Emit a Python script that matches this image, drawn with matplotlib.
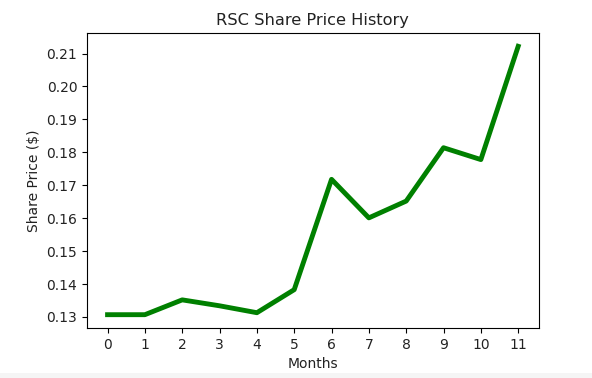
import numpy as np
import matplotlib
matplotlib.use('Agg')
import matplotlib.pyplot as plt
from matplotlib.patches import Rectangle

months = list(range(12))
price = [0.1307, 0.1307, 0.1352, 0.1334, 0.1313, 0.1383,
         0.1718, 0.1601, 0.1652, 0.1814, 0.1778, 0.2122]

fig = plt.figure(figsize=(5.92, 3.78), dpi=100)
ax = fig.add_axes([0.147, 0.132, 0.763, 0.781])

ax.plot(months, price, color='green', linewidth=3.5)
ax.set_xticks(months)
ax.set_title('RSC Share Price History', fontsize=11.7, color='#222222')
ax.set_xlabel('Months', color='#222222')
ax.set_ylabel('Share Price ($)', color='#222222')
ax.tick_params(labelcolor='#222222')

# light grey strip at the very bottom of the screenshot
fig.patches.append(Rectangle((0, 0), 1, 0.013, transform=fig.transFigure,
                             facecolor='#f5f5f5', edgecolor='none'))

fig.savefig('out.png', dpi=100)
